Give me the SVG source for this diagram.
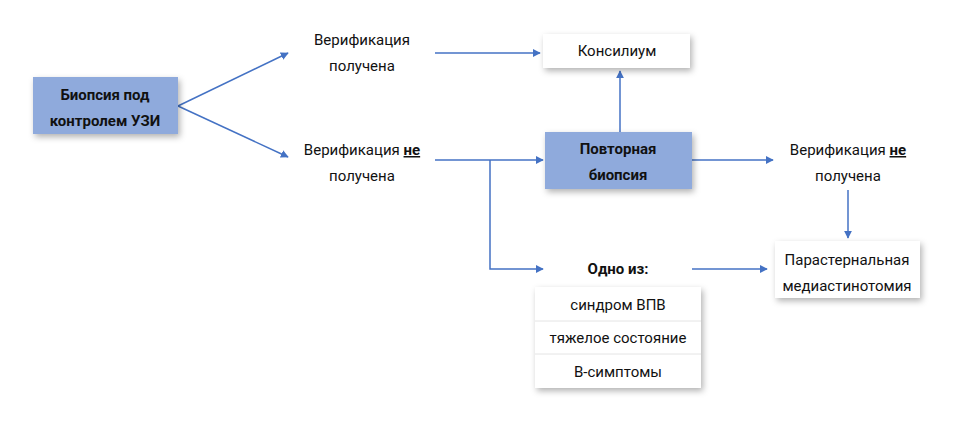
<svg xmlns="http://www.w3.org/2000/svg" width="974" height="423" viewBox="0 0 974 423">
<defs>
<filter id="sh" x="-20%" y="-30%" width="150%" height="170%"><feDropShadow dx="2" dy="3" stdDeviation="3" flood-color="#000" flood-opacity="0.3"/></filter>
<marker id="ar" viewBox="0 0 10 10" refX="9" refY="5" markerWidth="8" markerHeight="8" markerUnits="userSpaceOnUse" orient="auto"><path d="M0,0L10,5L0,10z" fill="#4472c4"/></marker>
<style>
text{font-family:Roboto,"Liberation Sans",sans-serif;font-size:15px;fill:#111;text-anchor:middle}
.b{font-weight:bold}
.blue{fill:#8faadc;filter:url(#sh)}
.white{fill:#fff;filter:url(#sh)}
.c line,.c polyline{stroke:#4472c4;stroke-width:1.5;fill:none;marker-end:url(#ar)}
</style>
</defs>
<rect width="974" height="423" fill="#fff"/>
<g class="c">
<line x1="178" y1="106" x2="288" y2="53"/>
<line x1="178" y1="106" x2="288" y2="157"/>
<line x1="435" y1="53" x2="540" y2="53"/>
<line x1="435" y1="160" x2="543" y2="160"/>
<polyline points="490,160 490,269 543,269"/>
<line x1="620" y1="132" x2="620" y2="71"/>
<line x1="692" y1="160" x2="773" y2="160"/>
<line x1="848" y1="190" x2="848" y2="238"/>
<line x1="692" y1="269" x2="767" y2="269"/>
</g>
<g id="biopsy"><rect class="blue" x="33" y="77" width="145" height="57"/><text class="b" x="105" y="100">Биопсия под</text><text class="b" x="105" y="126">контролем УЗИ</text></g>
<g id="ver1"><text x="362" y="45">Верификация</text><text x="362" y="71">получена</text></g>
<g id="ver2"><text x="362" y="155">Верификация <tspan class="b" text-decoration="underline">не</tspan></text><text x="362" y="181">получена</text></g>
<g id="konsilium"><rect class="white" x="543" y="34" width="147" height="34"/><text x="617" y="56">Консилиум</text></g>
<g id="repeat"><rect class="blue" x="545" y="132" width="147" height="57"/><text class="b" x="618" y="154">Повторная</text><text class="b" x="618" y="180">биопсия</text></g>
<g id="ver3"><text x="848" y="155">Верификация <tspan class="b" text-decoration="underline">не</tspan></text><text x="848" y="181">получена</text></g>
<g id="para"><rect class="white" x="775" y="241" width="145" height="57"/><text x="847" y="265">Парастернальная</text><text x="847" y="291">медиастинотомия</text></g>
<g id="odno"><text class="b" x="618" y="274">Одно из:</text></g>
<g id="list">
<rect class="white" x="535" y="287" width="166" height="101"/>
<line x1="535" y1="321" x2="701" y2="321" stroke="#e4e4e4"/>
<line x1="535" y1="354" x2="701" y2="354" stroke="#e4e4e4"/>
<text x="618" y="310">синдром ВПВ</text>
<text x="618" y="343">тяжелое состояние</text>
<text x="618" y="377">В-симптомы</text>
</g>
</svg>
